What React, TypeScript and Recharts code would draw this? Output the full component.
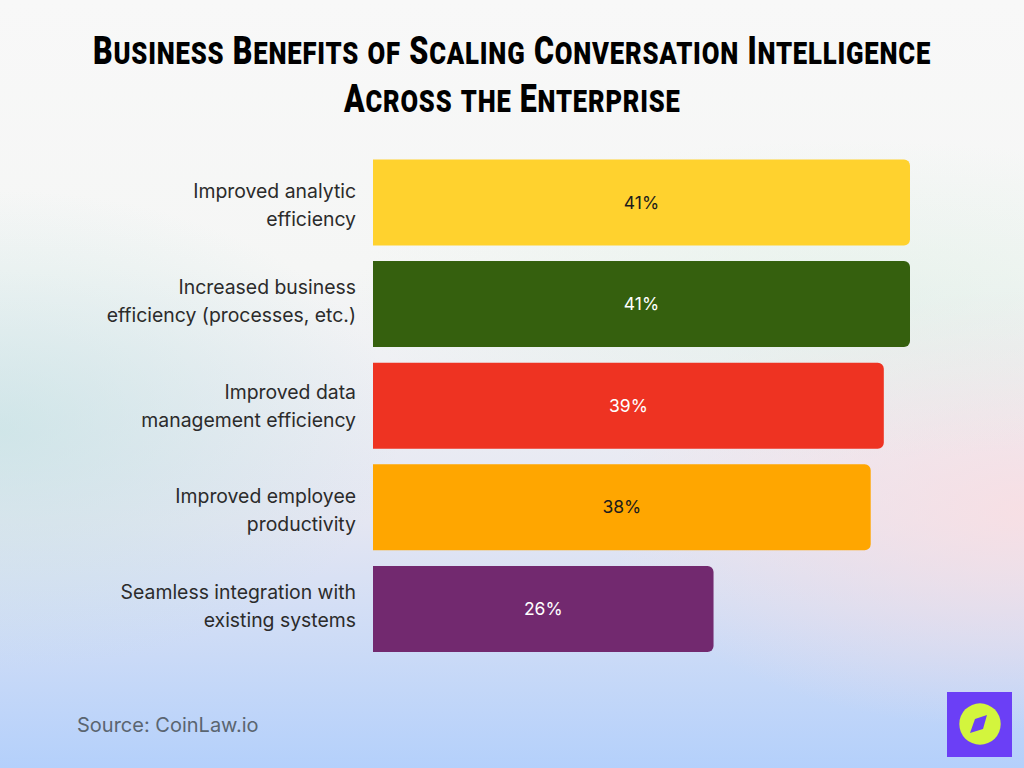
import React from 'react';
import { BarChart, Bar, XAxis, YAxis, Cell, LabelList } from 'recharts';

const categories = [
    'Improved analytic|efficiency',
    'Increased business|efficiency (processes, etc.)',
    'Improved data|management efficiency',
    'Improved employee|productivity',
    'Seamless integration with|existing systems',
];
const values = [41, 41, 39, 38, 26];
const barColors = ['#ffd22e', '#35600e', '#ee3322', '#ffa600', '#72296f'];
const labelColors = ['#1c1c1c', '#ffffff', '#ffffff', '#1c1c1c', '#ffffff'];
const titleLines = ['Business Benefits of Scaling Conversation Intelligence', 'Across the Enterprise'];

const data = categories.map((name, i) => ({ name, value: values[i] }));

const BODY_FONT = 'Inter, Lato, sans-serif';

// tick labels in the reference don't sit exactly centred on their bars
const tickNudge = [0, -6, -3, 0, -6];

// the title is drawn as hand made small caps, lower case letters are just smaller capitals
const smallCaps = (line: string) => {
    const runs = line.match(/[a-z]+|[^a-z]+/g) || [];
    return runs.map((run, i) => (
        <tspan key={i} fontSize={/[a-z]/.test(run) ? 32 : 38}>{run.toUpperCase()}</tspan>
    ));
};

const CategoryTick = ({ x, y, payload, index }: any) => {
    const lines = String(payload.value).split('|');
    const nudge = tickNudge[index] || 0;
    return (
        <text x={x + 6} y={y} textAnchor="end" fontFamily={BODY_FONT} fontSize={19.4} fill="#2b2b2b">
            <tspan x={x + 6} y={y - 4 + nudge}>{lines[0]}</tspan>
            <tspan x={x + 6} y={y + 24 + nudge}>{lines[1]}</tspan>
        </text>
    );
};

const ValueLabel = ({ x, y, width, height, value, index }: any) => (
    <text
        x={x + width / 2}
        y={y + height / 2 + 6}
        textAnchor="middle"
        fontFamily={BODY_FONT}
        fontSize={17.5}
        fill={labelColors[index]}
    >
        {value}%
    </text>
);

const App: React.FC = () => {
    return (
        <div
            style={{
                position: 'fixed',
                left: 0,
                top: 0,
                width: 1024,
                height: 768,
                overflow: 'hidden',
                background:
                    'radial-gradient(ellipse 400px 240px at 0px 430px, rgba(190,225,225,0.6), rgba(190,225,225,0)),' +
                    'radial-gradient(ellipse 500px 160px at 850px 300px, rgba(215,238,225,0.45), rgba(215,238,225,0)),' +
                    'radial-gradient(ellipse 420px 220px at 1024px 510px, rgba(250,222,226,0.85), rgba(250,222,226,0)),' +
                    'linear-gradient(180deg, #f8f8f8 0%, #f5f6f5 35%, #e4e6f2 68%, #b4d0fb 100%)',
            }}
        >
            <svg width={1024} height={130} style={{ position: 'absolute', left: 0, top: 0 }}>
                <g transform="translate(93,64) scale(0.802,1)">
                    <text x={0} y={0} fontFamily="Roboto, sans-serif" fontWeight={900} letterSpacing={1} fill="#000">
                        {smallCaps(titleLines[0])}
                    </text>
                </g>
                <g transform="translate(344,112) scale(0.798,1)">
                    <text x={0} y={0} fontFamily="Roboto, sans-serif" fontWeight={900} letterSpacing={1} fill="#000">
                        {smallCaps(titleLines[1])}
                    </text>
                </g>
            </svg>

            <div style={{ position: 'absolute', left: 0, top: 0 }}>
                <BarChart
                    width={1024}
                    height={768}
                    layout="vertical"
                    data={data}
                    margin={{ top: 151.5, right: 114, bottom: 108.5, left: 0 }}
                    barCategoryGap={8}
                >
                    <XAxis type="number" domain={[0, 41]} hide />
                    <YAxis
                        type="category"
                        dataKey="name"
                        width={373}
                        axisLine={false}
                        tickLine={false}
                        tickMargin={17}
                        interval={0}
                        tick={<CategoryTick />}
                    />
                    <Bar dataKey="value" barSize={86} radius={[0, 6, 6, 0]} isAnimationActive={false}>
                        {data.map((d, i) => (
                            <Cell key={d.name} fill={barColors[i]} />
                        ))}
                        <LabelList dataKey="value" content={<ValueLabel />} />
                    </Bar>
                </BarChart>
            </div>

            <div
                style={{
                    position: 'absolute',
                    left: 77,
                    top: 712,
                    fontFamily: BODY_FONT,
                    fontSize: 20,
                    lineHeight: '26px',
                    color: '#5a6570',
                }}
            >
                Source: CoinLaw.io
            </div>

            <svg width={65} height={65} viewBox="0 0 65 65" style={{ position: 'absolute', left: 947, top: 692 }}>
                <rect width={65} height={65} fill="#6b3ff6" />
                <circle cx={33} cy={32} r={20.7} fill="#d3f53d" />
                <path d="M40 23 L36 37 L23 41 L28 27 Z" fill="#6b3ff6" />
            </svg>
        </div>
    );
};

export default App;
